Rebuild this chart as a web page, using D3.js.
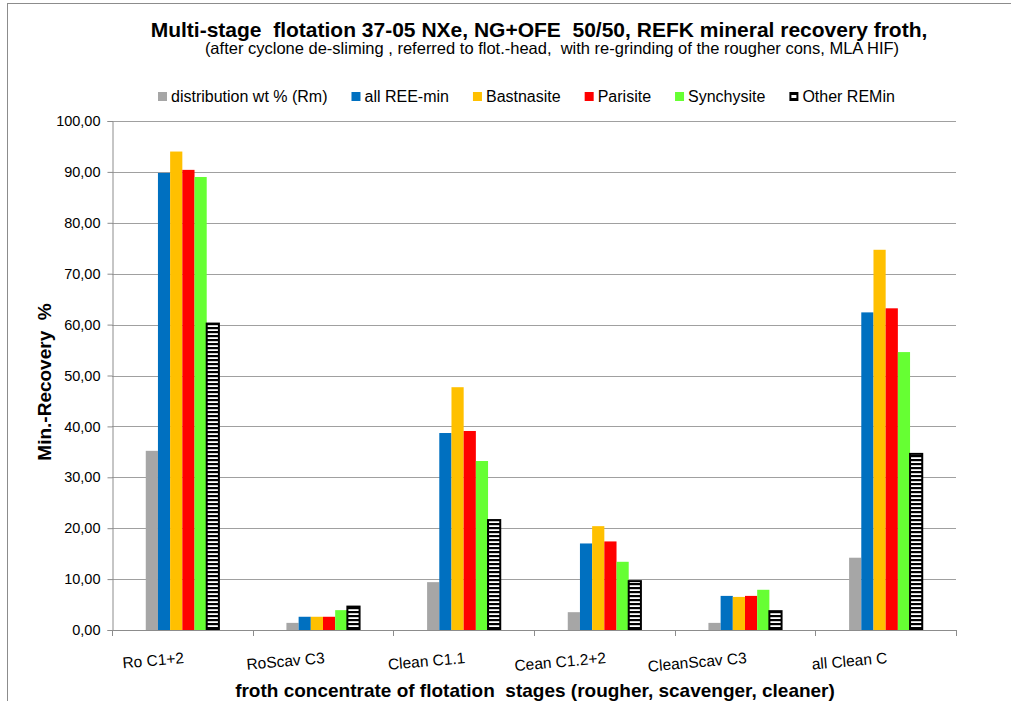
<!DOCTYPE html>
<html><head><meta charset="utf-8">
<script src="https://cdn.jsdelivr.net/npm/d3@7"></script>
<style>
html,body{margin:0;padding:0;background:#fff;}
svg{display:block;font-family:"Liberation Sans",Arial,sans-serif;}
</style></head>
<body>
<svg id="chart" width="1011" height="701"></svg>
<script>
const categories = ["Ro C1+2","RoScav C3","Clean C1.1","Cean C1.2+2","CleanScav C3","all Clean C"];
const seriesNames = ["distribution wt % (Rm)","all REE-min","Bastnasite","Parisite","Synchysite","Other REMin"];
const distribution = [35.2, 1.4, 9.4, 3.5, 1.4, 14.2];
const allREE      = [89.8, 2.6, 38.7, 17.0, 6.7, 62.4];
const bastnasite  = [94.0, 2.6, 47.7, 20.4, 6.5, 74.7];
const parisite    = [90.4, 2.6, 39.1, 17.4, 6.7, 63.2];
const synchysite  = [89.0, 3.9, 33.2, 13.4, 7.9, 54.6];
const otherREMin  = [60.2, 4.6, 21.6, 9.6, 3.7, 34.6];
const yTicks = [0,10,20,30,40,50,60,70,80,90,100];
const colors = ["#A6A6A6","#0070C0","#FFC000","#FF0000","#66FF33","url(#hatch)"];

(function(){
const seriesValues = [distribution, allREE, bastnasite, parisite, synchysite, otherREMin];

const svg = d3.select("#chart");
const pLeft = 112, pRight = 956, pTop = 121, pBottom = 630;

// hatch pattern
const defs = svg.append("defs");
const pat = defs.append("pattern").attr("id","hatch").attr("patternUnits","userSpaceOnUse")
  .attr("width",8).attr("height",4);
pat.append("rect").attr("width",8).attr("height",4).attr("fill","#000");
pat.append("rect").attr("y",1.2).attr("width",8).attr("height",1.8).attr("fill","#fff");

// outer border
svg.append("rect").attr("x",7.5).attr("y",3.5).attr("width",1100).attr("height",800)
  .attr("fill","none").attr("stroke","#8c8c8c").attr("stroke-width",1);

const x = d3.scaleBand().domain(categories).range([pLeft,pRight]).padding(0);
const bw = x.bandwidth();
const x1 = d3.scaleBand().domain(d3.range(seriesNames.length)).range([bw*0.24, bw*0.76]).padding(0);
const y = d3.scaleLinear().domain([0,100]).range([pBottom, pTop]);

const loc = d3.formatLocale({decimal:",", thousands:".", grouping:[3], currency:["",""]});
const fmt = loc.format(".2f");

// gridlines
svg.append("g").selectAll("line").data(yTicks.filter(t=>t>0)).join("line")
  .attr("x1",pLeft).attr("x2",pRight).attr("y1",d=>Math.round(y(d))+0.5).attr("y2",d=>Math.round(y(d))+0.5)
  .attr("stroke","#A0A0A0").attr("stroke-width",1);

// y axis
const yAxis = svg.append("g").attr("transform",`translate(${pLeft+0.5},0)`)
  .call(d3.axisLeft(y).tickValues(yTicks).tickFormat(fmt).tickSize(5).tickPadding(7));
yAxis.select(".domain").attr("stroke","#8c8c8c");
yAxis.selectAll(".tick line").attr("stroke","#8c8c8c");
yAxis.selectAll(".tick text").attr("font-size",14.5).attr("fill","#000").attr("font-family","Liberation Sans, Arial, sans-serif");

// bars
const groups = svg.append("g").selectAll("g").data(seriesValues).join("g");
groups.each(function(vals, si){
  d3.select(this).selectAll("rect").data(vals).join("rect")
    .attr("x",(d,i)=>x(categories[i]) + x1(si))
    .attr("y",d=>y(d))
    .attr("width",x1.bandwidth())
    .attr("height",d=>pBottom - y(d))
    .attr("fill",colors[si])
    .attr("stroke", si===5 ? "#000" : "none")
    .attr("stroke-width", si===5 ? 2 : 0);
});

// x axis
svg.append("line").attr("x1",pLeft).attr("x2",pRight).attr("y1",pBottom+0.5).attr("y2",pBottom+0.5)
  .attr("stroke","#8c8c8c");
const bounds = categories.map(c=>x(c)).concat([pRight]);
svg.append("g").selectAll("line").data(bounds).join("line")
  .attr("x1",d=>Math.round(d)+0.5).attr("x2",d=>Math.round(d)+0.5)
  .attr("y1",pBottom).attr("y2",pBottom+6).attr("stroke","#8c8c8c");

svg.append("g").selectAll("text").data(categories).join("text")
  .attr("transform",d=>`translate(${x(d)+bw/2+2},${pBottom+33}) rotate(-5)`)
  .attr("text-anchor","end").attr("font-size",15.5).attr("fill","#000").text(d=>d);

// titles
svg.append("text").attr("x",539).attr("y",37).attr("text-anchor","middle")
  .attr("font-size",21).attr("font-weight","bold").attr("xml:space","preserve")
  .text("Multi-stage  flotation 37-05 NXe, NG+OFE  50/50, REFK mineral recovery froth,");
svg.append("text").attr("x",552).attr("y",54).attr("text-anchor","middle")
  .attr("font-size",16.5).attr("xml:space","preserve")
  .text("(after cyclone de-sliming , referred to flot.-head,  with re-grinding of the rougher cons, MLA HIF)");

svg.append("text").attr("transform",`translate(51,382) rotate(-90)`)
  .attr("text-anchor","middle").attr("font-size",19).attr("font-weight","bold").attr("xml:space","preserve")
  .text("Min.-Recovery  %");

svg.append("text").attr("x",535).attr("y",697).attr("text-anchor","middle")
  .attr("font-size",19).attr("font-weight","bold").attr("xml:space","preserve")
  .text("froth concentrate of flotation  stages (rougher, scavenger, cleaner)");

// legend
const legend = svg.append("g");
let lx = 158;
seriesNames.forEach((name, i)=>{
  const g = legend.append("g").attr("transform",`translate(${lx},0)`);
  if(i===5){
    g.append("rect").attr("x",0).attr("y",92).attr("width",9).attr("height",9).attr("fill","#000");
    g.append("rect").attr("x",2).attr("y",95).attr("width",5).attr("height",3).attr("fill","#fff");
  } else {
    g.append("rect").attr("x",0).attr("y",92).attr("width",9).attr("height",9).attr("fill",colors[i]);
  }
  const t = g.append("text").attr("x",13).attr("y",102).attr("font-size",16).attr("fill","#000").text(name);
  lx += 13 + t.node().getComputedTextLength() + 24;
});
})();
</script>
</body></html>
